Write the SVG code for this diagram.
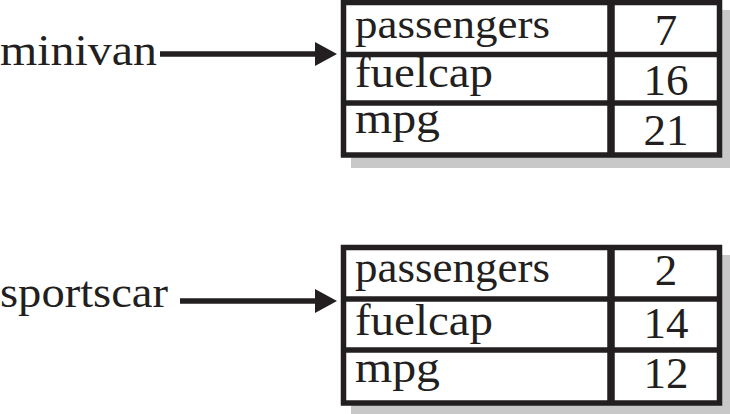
<svg xmlns="http://www.w3.org/2000/svg" width="730" height="414" viewBox="0 0 730 414">
<defs>
<style>
.t{font-family:"Liberation Serif","Times New Roman",serif;font-size:45px;fill:#231f20}
.n{font-family:"Liberation Serif","Times New Roman",serif;font-size:45px;fill:#231f20;text-anchor:middle}
.box{fill:#ffffff;stroke:#231f20;stroke-width:5.5}
.sh{fill:#c8c8c8}
.ln{stroke:#231f20;stroke-width:5.5}
.cd{stroke:#231f20;stroke-width:7.5}
.conn{stroke:#231f20;stroke-width:5.5;fill:none}
</style>
<marker id="ah" markerUnits="userSpaceOnUse" markerWidth="22" markerHeight="24" refX="5" refY="12" orient="auto">
<path d="M0,0 L22,12 L0,24 Z" fill="#231f20"/>
</marker>
</defs>
<rect width="730" height="414" fill="#ffffff"/>
<g id="label-minivan"><text class="t" x="0" y="65" textLength="157" lengthAdjust="spacingAndGlyphs">minivan</text></g>
<g id="label-sportscar"><text class="t" x="0" y="307" textLength="168" lengthAdjust="spacingAndGlyphs">sportscar</text></g>
<g id="obj-minivan">
<rect class="sh" x="351" y="10" width="381" height="158"/>
<rect class="box" x="343.5" y="2.5" width="376" height="152.5"/>
<line class="ln" x1="343.5" y1="54.5" x2="719.5" y2="54.5"/>
<line class="ln" x1="343.5" y1="103" x2="719.5" y2="103"/>
<line class="cd" x1="611" y1="2.5" x2="611" y2="155"/>
<text class="t" x="355" y="38" font-size="42" style="font-size:42px" textLength="195" lengthAdjust="spacingAndGlyphs">passengers</text>
<text class="t" x="355" y="87" textLength="138" lengthAdjust="spacingAndGlyphs">fuelcap</text>
<text class="t" x="355" y="133" textLength="85" lengthAdjust="spacingAndGlyphs">mpg</text>
<text class="n" x="666" y="45">7</text>
<text class="n" x="666" y="95">16</text>
<text class="n" x="666" y="145">21</text>
</g>
<g id="obj-sportscar">
<rect class="sh" x="351" y="255" width="381" height="160"/>
<rect class="box" x="343.5" y="247.5" width="376" height="155.5"/>
<line class="ln" x1="343.5" y1="299" x2="719.5" y2="299"/>
<line class="ln" x1="343.5" y1="350" x2="719.5" y2="350"/>
<line class="cd" x1="611" y1="247.5" x2="611" y2="403"/>
<text class="t" x="355" y="282" textLength="195" lengthAdjust="spacingAndGlyphs">passengers</text>
<text class="t" x="355" y="335" textLength="138" lengthAdjust="spacingAndGlyphs">fuelcap</text>
<text class="t" x="355" y="382" textLength="85" lengthAdjust="spacingAndGlyphs">mpg</text>
<text class="n" x="666" y="285">2</text>
<text class="n" x="666" y="338">14</text>
<text class="n" x="666" y="388">12</text>
</g>
<g id="connectors">
<line class="conn" x1="160" y1="54" x2="320" y2="54" marker-end="url(#ah)"/>
<line class="conn" x1="180" y1="301" x2="320" y2="301" marker-end="url(#ah)"/>
</g>
</svg>
